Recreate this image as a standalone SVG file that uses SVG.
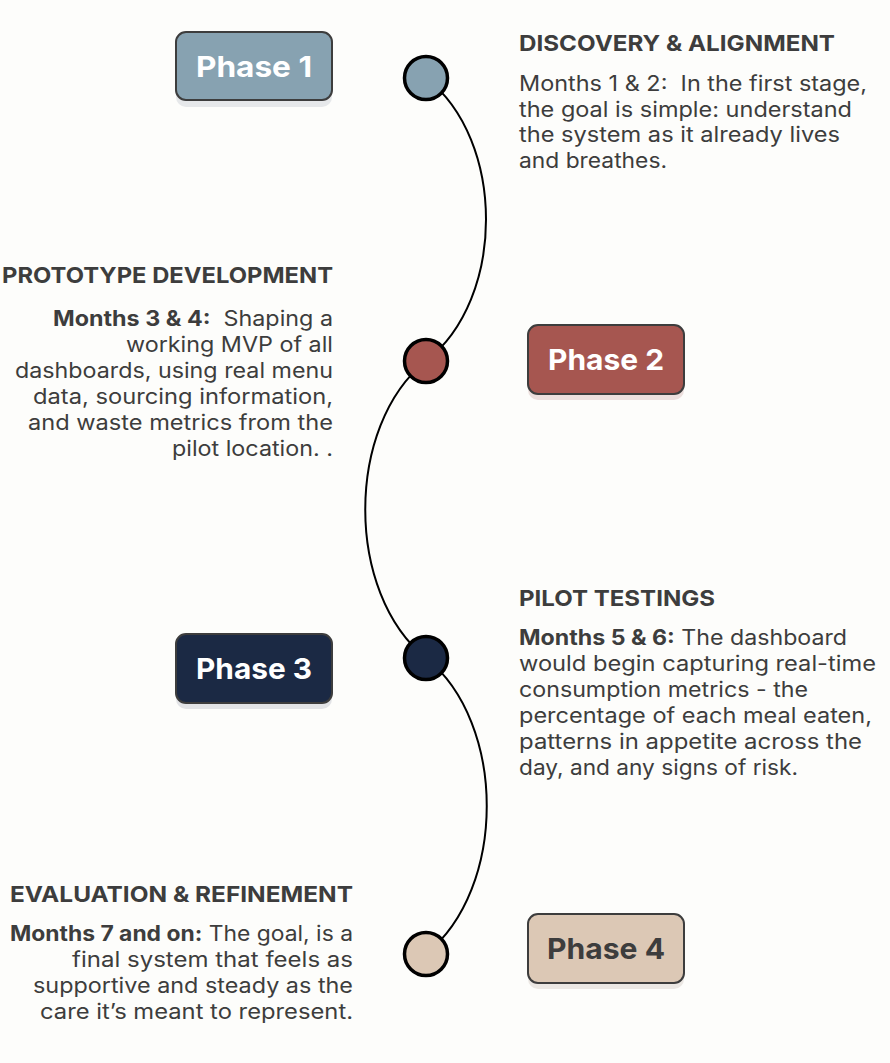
<svg xmlns="http://www.w3.org/2000/svg" width="890" height="1063" viewBox="0 0 890 1063">
<style>
.bg{fill:#fdfdfb}
.box{stroke:#3d3d3d;stroke-width:2}
.lbl{font-family:Inter,"Noto Sans","Liberation Sans",sans-serif;font-weight:700;font-size:29px;text-anchor:middle}
.head{font-family:Inter,"Noto Sans","Liberation Sans",sans-serif;font-weight:700;font-size:22px;fill:#3d3d3d}
.body{font-family:Inter,"Noto Sans","Liberation Sans",sans-serif;font-weight:400;font-size:21px;fill:#3d3d3d}
.b{font-weight:700}
.dot{stroke:#000;stroke-width:3.5}
.r{text-anchor:end}
</style>
<rect class="bg" width="890" height="1063"/>
<g id="connectors">
<path d="M426 78 C506 140 506 299 426 361 C345 426 345 593 426 658 C507 723 507 889 426 954" fill="none" stroke="#000" stroke-width="2"/>
</g>
<g id="phase1">
<rect x="176" y="38" width="156" height="69" rx="10" fill="#e6e8ea"/>
<rect class="box" x="176" y="32" width="156" height="68" rx="10" fill="#87a2b1"/>
<text class="lbl" x="254" y="77" fill="#fff" textLength="116" lengthAdjust="spacingAndGlyphs">Phase 1</text>
<circle class="dot" cx="426" cy="78" r="21.5" fill="#87a2b1"/>
<text class="head" x="519" y="51" textLength="316" lengthAdjust="spacingAndGlyphs">DISCOVERY &amp; ALIGNMENT</text>
<text class="body" x="519" y="91" textLength="348" lengthAdjust="spacingAndGlyphs">Months 1 &amp; 2:&#160; In the first stage,</text>
<text class="body" x="519" y="117" textLength="333" lengthAdjust="spacingAndGlyphs">the goal is simple: understand</text>
<text class="body" x="519" y="142" textLength="321" lengthAdjust="spacingAndGlyphs">the system as it already lives</text>
<text class="body" x="519" y="168" textLength="148" lengthAdjust="spacingAndGlyphs">and breathes.</text>
</g>
<g id="phase2">
<rect x="528" y="331" width="156" height="69" rx="10" fill="#ecdfdd"/>
<rect class="box" x="528" y="325" width="156" height="69" rx="10" fill="#a65650"/>
<text class="lbl" x="606" y="370" fill="#fff" textLength="116" lengthAdjust="spacingAndGlyphs">Phase 2</text>
<circle class="dot" cx="426" cy="361" r="21.5" fill="#a65650"/>
<text class="head r" x="333" y="283" textLength="331" lengthAdjust="spacingAndGlyphs">PROTOTYPE DEVELOPMENT</text>
<text class="body r" x="333" y="326" textLength="280" lengthAdjust="spacingAndGlyphs"><tspan class="b">Months 3 &amp; 4:</tspan>&#160; Shaping a</text>
<text class="body r" x="333" y="352" textLength="207" lengthAdjust="spacingAndGlyphs">working MVP of all</text>
<text class="body r" x="333" y="378" textLength="318" lengthAdjust="spacingAndGlyphs">dashboards, using real menu</text>
<text class="body r" x="333" y="404" textLength="300" lengthAdjust="spacingAndGlyphs">data, sourcing information,</text>
<text class="body r" x="333" y="430" textLength="305" lengthAdjust="spacingAndGlyphs">and waste metrics from the</text>
<text class="body r" x="333" y="456" textLength="161" lengthAdjust="spacingAndGlyphs">pilot location. .</text>
</g>
<g id="phase3">
<rect x="176" y="640" width="156" height="69" rx="10" fill="#e2e3e6"/>
<rect class="box" x="176" y="634" width="156" height="69" rx="10" fill="#1b2944"/>
<text class="lbl" x="254" y="679" fill="#fff" textLength="116" lengthAdjust="spacingAndGlyphs">Phase 3</text>
<circle class="dot" cx="426" cy="658" r="21.5" fill="#1b2944"/>
<text class="head" x="519" y="606" textLength="196" lengthAdjust="spacingAndGlyphs">PILOT TESTINGS</text>
<text class="body" x="519" y="645" textLength="328" lengthAdjust="spacingAndGlyphs"><tspan class="b">Months 5 &amp; 6:</tspan> The dashboard</text>
<text class="body" x="519" y="671" textLength="357" lengthAdjust="spacingAndGlyphs">would begin capturing real-time</text>
<text class="body" x="519" y="697" textLength="289" lengthAdjust="spacingAndGlyphs">consumption metrics - the</text>
<text class="body" x="519" y="723" textLength="353" lengthAdjust="spacingAndGlyphs">percentage of each meal eaten,</text>
<text class="body" x="519" y="749" textLength="343" lengthAdjust="spacingAndGlyphs">patterns in appetite across the</text>
<text class="body" x="519" y="775" textLength="279" lengthAdjust="spacingAndGlyphs">day, and any signs of risk.</text>
</g>
<g id="phase4">
<rect x="528" y="920" width="156" height="69" rx="10" fill="#ebe7e3"/>
<rect class="box" x="528" y="914" width="156" height="69" rx="10" fill="#dcc8b5"/>
<text class="lbl" x="606" y="959" fill="#3d3d3d" textLength="118" lengthAdjust="spacingAndGlyphs">Phase 4</text>
<circle class="dot" cx="426" cy="954" r="21.5" fill="#dcc8b5"/>
<text class="head r" x="353" y="902" textLength="343" lengthAdjust="spacingAndGlyphs">EVALUATION &amp; REFINEMENT</text>
<text class="body r" x="353" y="941" textLength="343" lengthAdjust="spacingAndGlyphs"><tspan class="b">Months 7 and on:</tspan> The goal, is a</text>
<text class="body r" x="353" y="967" textLength="281" lengthAdjust="spacingAndGlyphs">final system that feels as</text>
<text class="body r" x="353" y="993" textLength="320" lengthAdjust="spacingAndGlyphs">supportive and steady as the</text>
<text class="body r" x="353" y="1019" textLength="313" lengthAdjust="spacingAndGlyphs">care it’s meant to represent.</text>
</g>
</svg>
